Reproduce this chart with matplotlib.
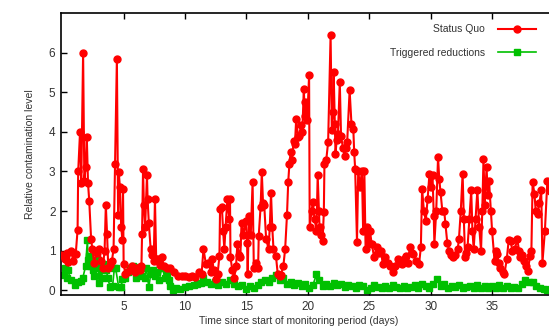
import matplotlib
matplotlib.use("Agg")
import matplotlib.pyplot as plt

plt.rcParams['font.family'] = ['Liberation Sans', 'DejaVu Sans']

# Status Quo series: (time in days, relative level)
sq_t = [0.0, 0.2, 0.35, 0.5, 0.7, 0.9, 1.1, 1.25, 1.3, 1.45, 1.55, 1.7, 1.8, 1.9, 2.0, 2.1,
        2.2, 2.35, 2.45, 2.6, 2.8, 3.0, 3.15, 3.3, 3.45, 3.55, 3.65, 3.75, 3.9, 4.05, 4.18,
        4.3, 4.45, 4.55, 4.6, 4.7, 4.8, 4.9, 4.95, 5.0, 5.15, 5.3, 5.5, 5.7, 5.9, 6.1, 6.3,
        6.45, 6.5, 6.58, 6.65, 6.75, 6.9, 6.95, 7.05, 7.2, 7.3, 7.45, 7.55, 7.65, 7.8, 7.95,
        8.1, 8.3, 8.5, 8.8, 9.1, 9.45, 9.75, 10.0, 10.3, 10.55, 10.8, 11.1, 11.35, 11.5, 11.7,
        11.9, 12.1, 12.2, 12.35, 12.5, 12.65, 12.8, 12.85, 13.0, 13.1, 13.2, 13.3, 13.45, 13.6,
        13.66, 13.7, 13.85, 14.0, 14.15, 14.26, 14.4, 14.5, 14.6, 14.75, 14.95, 15.05, 15.1,
        15.2, 15.35, 15.5, 15.6, 15.8, 15.95, 16.0, 16.15, 16.25, 16.35, 16.45, 16.6, 16.8,
        16.9, 17.0, 17.1, 17.2, 17.4, 17.55, 17.7, 17.8, 18.0, 18.15, 18.3, 18.4, 18.5, 18.6,
        18.7, 18.85, 18.95, 19.05, 19.2, 19.3, 19.45, 19.55, 19.67, 19.75, 19.8, 19.95, 20.1,
        20.15, 20.3, 20.4, 20.55, 20.7, 20.8, 20.9, 20.95, 21.1, 21.2, 21.3, 21.35, 21.5,
        21.65, 21.85, 21.95, 22.05, 22.1, 22.2, 22.25, 22.35, 22.45, 22.6, 22.7, 22.85, 23.0,
        23.1, 23.2, 23.4, 23.55, 23.7, 23.77, 23.85, 24.0, 24.1, 24.25, 24.4, 24.5, 24.6,
        24.7, 24.85, 24.95, 25.05, 25.2, 25.4, 25.6, 25.8, 25.95, 26.1, 26.3, 26.5, 26.7,
        26.9, 27.1, 27.3, 27.5, 27.7, 27.85, 27.96, 28.15, 28.3, 28.45, 28.6, 28.8, 29.05,
        29.2, 29.3, 29.45, 29.6, 29.75, 29.9, 30.05, 30.15, 30.25, 30.3, 30.45, 30.6, 30.7,
        30.8, 30.95, 31.1, 31.2, 31.35, 31.5, 31.65, 31.8, 32.0, 32.2, 32.3, 32.45, 32.6,
        32.7, 32.8, 32.9, 33.0, 33.15, 33.3, 33.4, 33.5, 33.65, 33.8, 33.95, 34.1, 34.2,
        34.3, 34.4, 34.55, 34.65, 34.75, 34.9, 35.0, 35.2, 35.3, 35.4, 35.55, 35.65, 35.85,
        36.0, 36.2, 36.35, 36.5, 36.65, 36.85, 37.05, 37.2, 37.3, 37.45, 37.6, 37.75, 37.9,
        38.1, 38.2, 38.3, 38.45, 38.55, 38.7, 38.85, 39.0, 39.1, 39.3, 39.5, 39.7]
sq_v = [0.90, 0.80, 0.95, 0.72, 1.0, 0.75, 0.92, 1.52, 3.0, 4.0, 2.7, 6.0, 2.75, 3.1, 3.87, 2.7,
        2.25, 1.3, 1.04, 0.7, 0.95, 1.04, 0.75, 0.57, 1.0, 2.15, 1.42, 0.57, 0.65, 0.75, 1.04,
        3.2, 5.85, 1.9, 2.98, 2.6, 1.6, 1.27, 2.56, 0.66, 0.4, 0.45, 0.5, 0.6, 0.45, 0.55, 0.5,
        0.62, 1.42, 3.07, 2.14, 1.6, 2.9, 2.3, 1.7, 1.04, 0.9, 0.75, 2.3, 0.8, 0.8, 0.65,
        0.83, 0.6, 0.55, 0.57, 0.45, 0.36, 0.35, 0.36, 0.33, 0.36, 0.34, 0.45, 0.42, 1.04, 0.66,
        0.7, 0.45, 0.79, 0.5, 0.28, 0.4, 0.87, 2.05, 2.1, 1.5, 1.04, 1.6, 2.3, 1.8,
        2.3, 0.83, 0.5, 0.32, 0.6, 1.17, 0.9, 0.83, 1.71, 1.4, 1.76, 1.2, 0.4,
        1.88, 1.4, 2.73, 0.57, 0.7, 0.57, 1.38, 2.1, 2.98, 2.2, 2.14, 1.3, 1.04,
        1.6, 2.45, 1.6, 1.04, 0.87, 0.4, 0.35, 0.39, 0.6, 1.04, 1.9, 2.73, 3.2, 3.49,
        3.3, 3.78, 3.7, 4.33, 3.87, 3.9, 4.16, 4.0, 5.09, 4.4, 4.75, 4.3, 5.43,
        1.59, 2.0, 2.22, 1.8, 1.5, 2.9, 2.0, 1.59, 1.4, 1.25, 1.97, 3.19, 3.3,
        3.74, 6.44, 4.04, 4.5, 5.52, 4.2, 3.45, 3.8, 3.95, 5.26, 3.9, 3.6, 3.4,
        3.6, 3.74, 5.05, 4.2, 4.08, 3.49, 3.07, 1.22, 3.02, 2.6, 3.02, 1.5, 3.0,
        1.05, 1.6, 1.2, 1.5, 1.17, 0.83, 1.1, 0.95, 1.0, 0.66, 0.83, 0.7, 0.6,
        0.45, 0.6, 0.79, 0.7, 0.66, 0.8, 0.87, 0.7, 1.08, 0.95, 0.91, 0.75, 0.66,
        1.08, 2.56, 2.0, 1.76, 2.3, 2.94, 2.6, 2.9, 1.88, 1.17, 2.0, 3.36, 2.8,
        2.47, 2.0, 2.0, 1.67, 1.2, 1.0, 0.9, 0.83, 0.9, 1.04, 1.29, 2.0, 2.94,
        1.8, 0.83, 0.95, 1.08, 1.8, 2.52, 1.5, 1.04, 1.8, 2.52, 1.6, 1.0, 2.0,
        3.32, 2.14, 3.1, 2.4, 2.77, 2.0, 1.5, 0.74, 1.0, 0.91, 0.7, 0.57, 0.45,
        0.4, 0.8, 1.26, 1.25, 1.0, 1.04, 1.29, 1.0, 0.83, 0.9, 0.74, 0.6, 0.49,
        0.87, 1.0, 2.73, 2.43, 2.0, 1.93, 2.2, 2.52, 0.7, 1.5, 2.77, 2.5]

# Triggered reductions series
tr_t = [0.0, 0.2, 0.35, 0.46, 0.7, 1.0, 1.3, 1.5, 1.68, 1.9, 2.05, 2.1, 2.2, 2.35, 2.5, 2.6,
        2.75, 2.9, 3.0, 3.1, 3.2, 3.35, 3.45, 3.6, 3.7, 3.9, 4.1, 4.25, 4.35, 4.6, 4.8, 4.9,
        5.1, 5.35, 5.5, 5.6, 5.75, 6.0, 6.15, 6.3, 6.5, 6.7, 6.85, 7.05, 7.2, 7.4, 7.55, 7.7,
        7.9, 8.1, 8.15, 8.35, 8.5, 8.7, 8.8, 9.0, 9.3, 9.6, 9.96, 10.3, 10.7, 11.0, 11.3,
        11.5, 11.8, 12.1, 12.4, 12.7, 13.0, 13.3, 13.7, 14.0, 14.3, 14.6, 15.0, 15.3, 15.6,
        15.9, 16.2, 16.5, 16.8, 17.1, 17.4, 17.7, 18.0, 18.3, 18.6, 18.9, 19.2, 19.5, 19.8,
        20.1, 20.4, 20.7, 20.9, 21.2, 21.5, 21.8, 22.1, 22.4, 22.7, 23.0, 23.3, 23.6, 23.9,
        24.2, 24.5, 24.8, 25.1, 25.4, 25.7, 26.0, 26.3, 26.6, 26.9, 27.2, 27.5, 27.8, 28.1,
        28.4, 28.7, 29.0, 29.3, 29.6, 29.9, 30.2, 30.5, 30.8, 31.1, 31.4, 31.7, 32.0, 32.3,
        32.6, 32.9, 33.2, 33.5, 33.8, 34.1, 34.4, 34.7, 35.0, 35.3, 35.6, 35.9, 36.2, 36.5,
        36.8, 37.1, 37.4, 37.7, 38.0, 38.3, 38.6, 38.9, 39.2, 39.5, 39.8]
tr_v = [0.38, 0.55, 0.3, 0.5, 0.25, 0.13, 0.2, 0.24, 0.32, 0.6, 1.27, 0.76, 0.87, 0.6, 0.5, 0.36,
        0.55, 0.76, 0.19, 0.6, 0.3, 0.66, 0.5, 0.5, 0.32, 0.08, 0.11, 0.57, 0.55, 0.07, 0.08, 0.28,
        0.3, 0.45, 0.55, 0.53, 0.62, 0.32, 0.4, 0.59, 0.35, 0.3, 0.57, 0.08, 0.4, 0.5, 0.35, 0.45,
        0.25, 0.57, 0.59, 0.3, 0.4, 0.25, 0.11, 0.0, 0.05, 0.03, 0.08, 0.1, 0.12, 0.15, 0.18,
        0.3, 0.2, 0.15, 0.2, 0.12, 0.22, 0.15, 0.25, 0.15, 0.1, 0.12, 0.02, 0.1, 0.05,
        0.12, 0.2, 0.25, 0.22, 0.3, 0.38, 0.25, 0.3, 0.15, 0.2, 0.12, 0.18, 0.1, 0.15,
        0.05, 0.12, 0.4, 0.25, 0.1, 0.15, 0.1, 0.18, 0.12, 0.15, 0.08, 0.12, 0.1, 0.05,
        0.12, 0.1, 0.0, 0.05, 0.12, 0.08, 0.05, 0.1, 0.05, 0.12, 0.08, 0.05, 0.1, 0.05,
        0.08, 0.12, 0.05, 0.15, 0.1, 0.05, 0.15, 0.28, 0.1, 0.15, 0.05, 0.1, 0.08, 0.12,
        0.05, 0.08, 0.1, 0.05, 0.12, 0.05, 0.1, 0.05, 0.1, 0.05, 0.12, 0.05, 0.1, 0.05,
        0.08, 0.05, 0.15, 0.25, 0.22, 0.2, 0.1, 0.05, 0.02, 0.0, 0.02]

xticks = [5, 10, 15, 20, 25, 30, 35]
yticks = [0, 1, 2, 3, 4, 5, 6]

W, H = 549, 333
fig = plt.figure(figsize=(W / 100, H / 100), dpi=100)
# axes run slightly past the right edge, as in the cropped original
ax = fig.add_axes([61 / W, 1 - 295 / H, (553.5 - 61) / W, (295 - 13) / H])

ax.plot(sq_t, sq_v, color='#ff0000', lw=1.5, marker='o', ms=5.0,
        mec='#ff0000', mfc='#ff0000', label='Status Quo', zorder=3)
ax.plot(tr_t, tr_v, color='#00c000', lw=1.2, marker='s', ms=4.2,
        mec='#00c000', mfc='#00c000', label='Triggered reductions', zorder=2)

ax.set_xlim(-0.1, 40)
ax.set_ylim(-0.12, 7)
ax.set_xticks(xticks)
ax.set_yticks(yticks)
ax.tick_params(direction='in', length=4, width=1, top=True, right=False,
               labelsize=8.5, labelcolor='#333333', pad=4)
for s in ax.spines.values():
    s.set_linewidth(1.2)

ax.set_ylabel('Relative contamination level', fontsize=7.5, color='#333333', labelpad=10)
ax.set_xlabel('Time since start of monitoring period (days)', fontsize=7.5,
              color='#333333', labelpad=4)
ax.xaxis.set_label_coords(0.483, -0.075)

ax.legend(loc='upper right', bbox_to_anchor=(540 / W, 1 - 20 / H),
          bbox_transform=fig.transFigure, frameon=False, markerfirst=False,
          fontsize=7.5, handlelength=3.6, labelspacing=1.3, handletextpad=1.3,
          borderaxespad=0, labelcolor='#333333')

fig.savefig('out.png', dpi=100)
